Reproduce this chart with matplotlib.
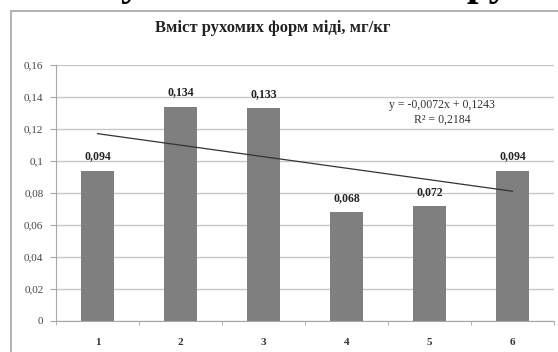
import numpy as np
import matplotlib.pyplot as plt
from matplotlib.patches import Rectangle

plt.rcParams['font.family'] = ['Liberation Serif', 'DejaVu Serif']

# mobile copper content per sampling point
points = ['1', '2', '3', '4', '5', '6']
copper = [0.094, 0.134, 0.133, 0.068, 0.072, 0.094]
trend_slope = -0.0072
trend_intercept = 0.1243
trend_r2 = 0.2184
y_ticks = [0, 0.02, 0.04, 0.06, 0.08, 0.1, 0.12, 0.14, 0.16]


def comma(v):
    s = ('%.2f' % v).rstrip('0').rstrip('.')
    return s.replace('.', ',')


fig = plt.figure(figsize=(5.58, 3.52), dpi=100)
fig.patch.set_facecolor('white')

# chart frame
fig.patches.append(Rectangle((11 / 558, -0.05), 1.0, 1 - 11 / 352 + 0.05,
                             transform=fig.transFigure, fill=False,
                             edgecolor='#a6a6a6', linewidth=1.2))

# heading of the page above the chart, only descenders remain on the page
fig.text(131 / 558, 1 + 5 / 352, 'у', fontsize=30, fontweight='bold',
         ha='center', va='baseline', color='black')
fig.text(488 / 558, 1 + 5 / 352, 'ру', fontsize=30, fontweight='bold',
         ha='center', va='baseline', color='black')

ax = fig.add_axes([56 / 558, 31 / 352, 498 / 558, 256 / 352])
x = np.arange(1, len(points) + 1)
ax.bar(x, copper, width=0.4, color='#7f7f7f', zorder=2)

for xi, v in zip(x, copper):
    ax.text(xi, v + 0.005, ('%.3f' % v).replace('.', ','), ha='center',
            va='bottom', fontsize=8.5, fontweight='bold', color='#222222')

xt = np.array([1, 6])
ax.plot(xt, trend_slope * xt + trend_intercept, color='#333333',
        linewidth=0.9, zorder=3)
ax.text(5.15, 0.1306, 'y = -0,0072x + 0,1243\nR² = 0,2184', ha='center',
        va='center', fontsize=8.5, color='#333333', linespacing=1.3)

ax.set_xlim(0.5, 6.5)
ax.set_ylim(0, 0.16)
ax.set_xticks(x)
ax.set_xticklabels(points, fontsize=8, fontweight='bold', color='#333333')
ax.set_xticks(np.arange(0.5, 7, 1), minor=True)
ax.set_yticks(y_ticks)
ax.set_yticklabels([comma(t) for t in y_ticks], fontsize=8, color='#444444')
ax.tick_params(axis='x', which='major', length=0, pad=12)
ax.tick_params(axis='x', which='minor', length=3, color='#a6a6a6')
ax.tick_params(axis='y', length=4, color='#a6a6a6', pad=5)
ax.grid(axis='y', color='#c8c8c8', linewidth=1, zorder=0)
for side in ['top', 'right']:
    ax.spines[side].set_visible(False)
ax.spines['left'].set_color('#a6a6a6')
ax.spines['bottom'].set_color('#a6a6a6')

fig.text(273 / 558, 1 - 28 / 352, 'Вміст рухомих форм міді, мг/кг',
         ha='center', va='center', fontsize=12, fontweight='bold',
         color='#222222')

fig.savefig('out.png', dpi=100)
